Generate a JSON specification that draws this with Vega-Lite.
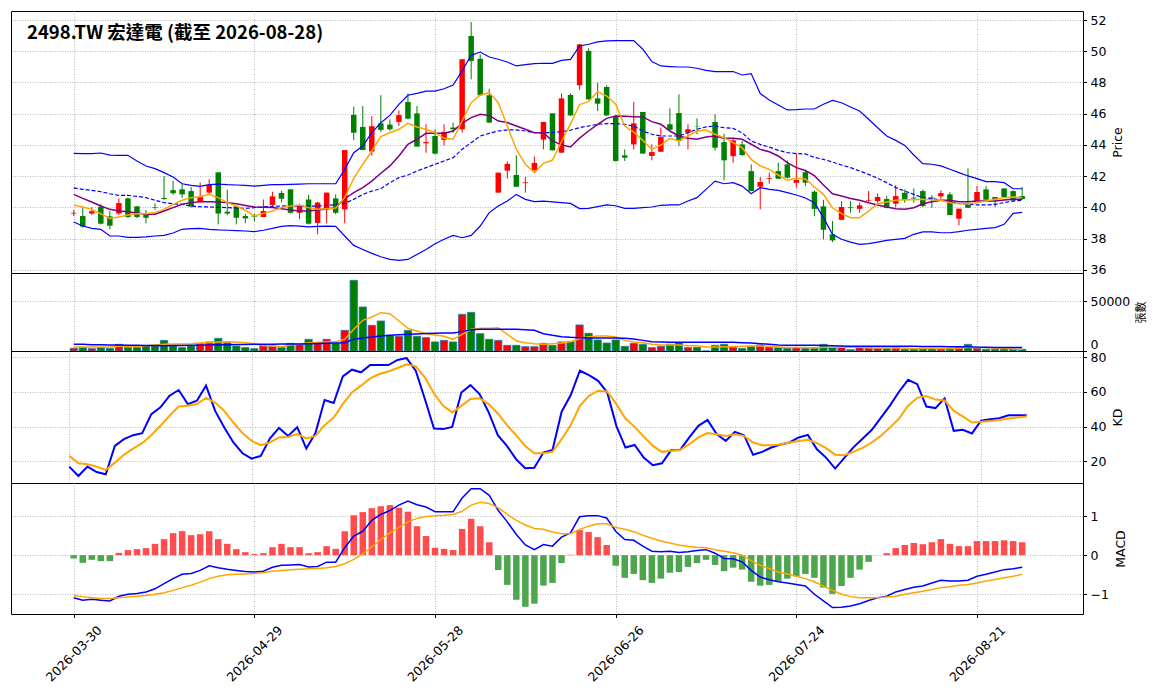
{
"$schema": "https://vega.github.io/schema/vega-lite/v6.json",
"background": "white",
"padding": {"left": 10, "top": 10, "right": 5, "bottom": 5},
"spacing": 0,
"bounds": "flush",
"resolve": {"scale": {"x": "independent", "y": "independent"}},
"config": {
 "view": {"stroke": "#000", "strokeWidth": 1},
 "axis": {"labelFont": "DejaVu Sans", "labelFontSize": 12.5, "labelColor": "#000", "titleFont": "DejaVu Sans", "titleFontSize": 12.5, "titleFontWeight": "normal", "titleColor": "#000", "tickColor": "#000", "tickSize": 3.5, "labelPadding": 3.5, "domain": false, "gridColor": "#a8a8a8", "gridDash": [1, 1.5], "gridWidth": 0.8}
},
"datasets": {"d": [
{"i":0,"o":39.6,"h":39.83,"l":39.44,"c":39.65,"v":2700,"m5":40.14,"m10":40.83,"m20":41.24,"bu":43.46,"bl":39.06,"v5":4000,"v20":6700,"k":16.9,"d":23.1,"dif":-1.09,"sig":-1.03,"hist":-0.085},
{"i":1,"o":39.44,"h":40.0,"l":38.7,"c":38.76,"v":3400,"m5":40.02,"m10":40.57,"m20":41.15,"bu":43.44,"bl":38.8,"v5":4000,"v20":6700,"k":11.5,"d":18.8,"dif":-1.15,"sig":-1.06,"hist":-0.196},
{"i":2,"o":39.6,"h":40.0,"l":39.5,"c":39.75,"v":2350,"m5":39.87,"m10":40.34,"m20":41.08,"bu":43.44,"bl":38.65,"v5":4000,"v20":6400,"k":16.9,"d":18.3,"dif":-1.13,"sig":-1.09,"hist":-0.12},
{"i":3,"o":40.04,"h":40.2,"l":38.9,"c":38.95,"v":3400,"m5":39.59,"m10":40.08,"m20":41.0,"bu":43.48,"bl":38.59,"v5":4000,"v20":6200,"k":13.8,"d":16.9,"dif":-1.15,"sig":-1.11,"hist":-0.153},
{"i":4,"o":39.42,"h":39.76,"l":38.59,"c":38.82,"v":2700,"m5":39.29,"m10":39.87,"m20":40.87,"bu":43.35,"bl":38.16,"v5":4000,"v20":6000,"k":12.5,"d":15.0,"dif":-1.17,"sig":-1.11,"hist":-0.153},
{"i":5,"o":39.6,"h":40.57,"l":39.5,"c":40.27,"v":6700,"m5":39.38,"m10":39.76,"m20":40.76,"bu":43.33,"bl":38.16,"v5":4700,"v20":6000,"k":28.8,"d":19.2,"dif":-1.05,"sig":-1.09,"hist":0.06},
{"i":6,"o":40.57,"h":40.62,"l":39.3,"c":39.38,"v":3400,"m5":39.5,"m10":39.72,"m20":40.76,"bu":43.33,"bl":38.07,"v5":4700,"v20":5800,"k":32.7,"d":23.7,"dif":-1.0,"sig":-1.07,"hist":0.128},
{"i":7,"o":40.06,"h":40.08,"l":39.3,"c":39.38,"v":3400,"m5":39.59,"m10":39.63,"m20":40.7,"bu":42.97,"bl":38.07,"v5":4900,"v20":5700,"k":35.0,"d":27.3,"dif":-0.98,"sig":-1.05,"hist":0.153},
{"i":8,"o":39.6,"h":39.83,"l":38.97,"c":39.33,"v":5000,"m5":39.59,"m10":39.55,"m20":40.62,"bu":42.65,"bl":38.1,"v5":5400,"v20":5600,"k":36.2,"d":30.4,"dif":-0.94,"sig":-1.03,"hist":0.179},
{"i":9,"o":40.02,"h":40.25,"l":39.85,"c":39.98,"v":5000,"m5":39.66,"m10":39.55,"m20":40.45,"bu":42.48,"bl":38.16,"v5":6000,"v20":5500,"k":47.1,"d":35.0,"dif":-0.86,"sig":-1.0,"hist":0.289},
{"i":10,"o":40.6,"h":42.0,"l":40.48,"c":40.53,"v":10700,"m5":39.87,"m10":39.76,"m20":40.3,"bu":42.22,"bl":38.2,"v5":6700,"v20":5400,"k":51.0,"d":40.4,"dif":-0.73,"sig":-0.96,"hist":0.409},
{"i":11,"o":41.1,"h":41.7,"l":40.8,"c":40.9,"v":5000,"m5":40.19,"m10":39.98,"m20":40.23,"bu":41.94,"bl":38.35,"v5":7000,"v20":5500,"k":57.7,"d":46.2,"dif":-0.6,"sig":-0.9,"hist":0.562},
{"i":12,"o":41.15,"h":41.47,"l":40.6,"c":40.83,"v":3400,"m5":40.45,"m10":40.19,"m20":40.19,"bu":41.51,"bl":38.59,"v5":7000,"v20":5600,"k":61.0,"d":51.5,"dif":-0.49,"sig":-0.83,"hist":0.613},
{"i":13,"o":41.04,"h":41.3,"l":39.98,"c":40.06,"v":5000,"m5":40.62,"m10":40.3,"m20":40.08,"bu":41.4,"bl":38.63,"v5":7400,"v20":5800,"k":52.9,"d":51.9,"dif":-0.47,"sig":-0.77,"hist":0.511},
{"i":14,"o":40.36,"h":41.58,"l":40.3,"c":40.7,"v":7700,"m5":40.68,"m10":40.36,"m20":40.04,"bu":41.34,"bl":38.65,"v5":8050,"v20":5900,"k":54.8,"d":52.9,"dif":-0.39,"sig":-0.69,"hist":0.536},
{"i":15,"o":40.94,"h":41.8,"l":40.88,"c":41.43,"v":9100,"m5":40.83,"m10":40.36,"m20":40.02,"bu":41.45,"bl":38.59,"v5":8600,"v20":6000,"k":63.5,"d":56.5,"dif":-0.27,"sig":-0.6,"hist":0.613},
{"i":16,"o":42.24,"h":42.24,"l":38.9,"c":39.6,"v":12750,"m5":40.62,"m10":40.34,"m20":40.0,"bu":41.49,"bl":38.55,"v5":9100,"v20":6200,"k":49.0,"d":53.8,"dif":-0.32,"sig":-0.54,"hist":0.409},
{"i":17,"o":39.72,"h":41.13,"l":39.5,"c":39.6,"v":8400,"m5":40.3,"m10":40.3,"m20":39.98,"bu":41.45,"bl":38.53,"v5":9400,"v20":6400,"k":39.4,"d":49.0,"dif":-0.36,"sig":-0.5,"hist":0.289},
{"i":18,"o":40.06,"h":40.06,"l":38.9,"c":39.33,"v":5000,"m5":40.08,"m10":40.23,"m20":39.96,"bu":41.43,"bl":38.5,"v5":9100,"v20":6500,"k":30.8,"d":42.3,"dif":-0.39,"sig":-0.49,"hist":0.153},
{"i":19,"o":39.44,"h":39.59,"l":38.99,"c":39.29,"v":3400,"m5":39.81,"m10":40.12,"m20":39.93,"bu":41.4,"bl":38.48,"v5":8400,"v20":6600,"k":24.6,"d":36.2,"dif":-0.42,"sig":-0.48,"hist":0.077},
{"i":20,"o":39.47,"h":39.6,"l":39.1,"c":39.4,"v":2350,"m5":39.44,"m10":40.02,"m20":39.98,"bu":41.36,"bl":38.44,"v5":7400,"v20":6700,"k":21.5,"d":31.7,"dif":-0.43,"sig":-0.47,"hist":0.026},
{"i":21,"o":39.38,"h":40.5,"l":39.38,"c":39.76,"v":5700,"m5":39.61,"m10":40.0,"m20":40.02,"bu":41.4,"bl":38.53,"v5":5400,"v20":6800,"k":23.1,"d":29.2,"dif":-0.41,"sig":-0.45,"hist":0.051},
{"i":22,"o":40.15,"h":41.0,"l":40.1,"c":40.7,"v":5000,"m5":39.76,"m10":39.98,"m20":40.06,"bu":41.45,"bl":38.65,"v5":5000,"v20":6900,"k":33.1,"d":30.8,"dif":-0.31,"sig":-0.41,"hist":0.204},
{"i":23,"o":40.92,"h":41.05,"l":40.3,"c":40.55,"v":3400,"m5":39.98,"m10":39.91,"m20":40.08,"bu":41.45,"bl":38.78,"v5":4350,"v20":7000,"k":39.2,"d":33.7,"dif":-0.26,"sig":-0.39,"hist":0.289},
{"i":24,"o":41.15,"h":41.15,"l":39.6,"c":39.65,"v":7700,"m5":40.08,"m10":39.83,"m20":40.1,"bu":41.47,"bl":38.82,"v5":6000,"v20":7000,"k":34.6,"d":34.0,"dif":-0.25,"sig":-0.37,"hist":0.204},
{"i":25,"o":39.65,"h":40.23,"l":39.23,"c":40.12,"v":6700,"m5":40.14,"m10":39.76,"m20":40.08,"bu":41.49,"bl":38.8,"v5":6700,"v20":7050,"k":39.6,"d":35.6,"dif":-0.24,"sig":-0.36,"hist":0.204},
{"i":26,"o":40.5,"h":40.8,"l":38.9,"c":38.95,"v":11750,"m5":39.98,"m10":39.76,"m20":40.08,"bu":41.51,"bl":38.74,"v5":8400,"v20":7300,"k":27.3,"d":33.1,"dif":-0.3,"sig":-0.35,"hist":0.051},
{"i":27,"o":39.0,"h":40.35,"l":38.27,"c":40.3,"v":7700,"m5":39.87,"m10":39.83,"m20":40.08,"bu":41.51,"bl":38.78,"v5":8700,"v20":7500,"k":36.2,"d":34.6,"dif":-0.29,"sig":-0.34,"hist":0.077},
{"i":28,"o":39.87,"h":40.94,"l":38.97,"c":40.94,"v":11750,"m5":39.91,"m10":39.89,"m20":40.12,"bu":41.51,"bl":38.8,"v5":9400,"v20":7700,"k":55.2,"d":40.8,"dif":-0.18,"sig":-0.32,"hist":0.23},
{"i":29,"o":40.57,"h":40.83,"l":39.55,"c":39.65,"v":7700,"m5":39.95,"m10":39.98,"m20":40.17,"bu":41.51,"bl":38.78,"v5":9400,"v20":8000,"k":53.5,"d":45.2,"dif":-0.18,"sig":-0.29,"hist":0.162},
{"i":30,"o":39.87,"h":43.67,"l":38.97,"c":43.67,"v":20800,"m5":40.62,"m10":40.55,"m20":40.25,"bu":42.43,"bl":38.16,"v5":11750,"v20":8400,"k":68.8,"d":52.9,"dif":0.19,"sig":-0.22,"hist":0.61},
{"i":31,"o":45.92,"h":46.45,"l":44.3,"c":44.78,"v":71150,"m5":41.86,"m10":40.94,"m20":40.51,"bu":43.5,"bl":37.56,"v5":21800,"v20":11750,"k":72.7,"d":59.6,"dif":0.49,"sig":-0.11,"hist":1.02},
{"i":32,"o":45.15,"h":46.49,"l":43.67,"c":43.67,"v":44300,"m5":42.75,"m10":41.26,"m20":40.83,"bu":43.93,"bl":37.3,"v5":30900,"v20":13000,"k":71.2,"d":63.5,"dif":0.61,"sig":0.03,"hist":1.1},
{"i":33,"o":43.57,"h":45.85,"l":43.3,"c":45.2,"v":25850,"m5":43.61,"m10":41.68,"m20":41.04,"bu":44.78,"bl":37.05,"v5":34200,"v20":14100,"k":75.4,"d":67.7,"dif":0.89,"sig":0.21,"hist":1.2},
{"i":34,"o":45.38,"h":47.18,"l":44.83,"c":44.96,"v":30200,"m5":44.53,"m10":42.18,"m20":41.19,"bu":45.42,"bl":36.83,"v5":38600,"v20":15000,"k":75.4,"d":70.2,"dif":1.04,"sig":0.4,"hist":1.25},
{"i":35,"o":45.3,"h":45.64,"l":44.9,"c":45.0,"v":15800,"m5":44.78,"m10":42.65,"m20":41.58,"bu":45.89,"bl":36.66,"v5":37600,"v20":15800,"k":75.4,"d":71.7,"dif":1.14,"sig":0.57,"hist":1.28},
{"i":36,"o":45.47,"h":46.21,"l":45.21,"c":45.91,"v":14800,"m5":45.0,"m10":43.29,"m20":41.9,"bu":46.6,"bl":36.6,"v5":30200,"v20":16300,"k":78.3,"d":73.7,"dif":1.28,"sig":0.71,"hist":1.21},
{"i":37,"o":46.75,"h":47.3,"l":45.64,"c":45.68,"v":20800,"m5":45.38,"m10":44.04,"m20":42.07,"bu":47.18,"bl":36.66,"v5":22800,"v20":16800,"k":79.4,"d":75.8,"dif":1.38,"sig":0.85,"hist":1.11},
{"i":38,"o":46.02,"h":46.49,"l":43.89,"c":43.89,"v":14800,"m5":45.15,"m10":44.36,"m20":42.33,"bu":47.3,"bl":36.98,"v5":20100,"v20":17100,"k":72.1,"d":74.6,"dif":1.29,"sig":0.94,"hist":0.74},
{"i":39,"o":44.1,"h":45.32,"l":43.5,"c":44.18,"v":13400,"m5":45.0,"m10":44.74,"m20":42.54,"bu":47.45,"bl":37.3,"v5":17450,"v20":17500,"k":55.8,"d":68.3,"dif":1.23,"sig":0.99,"hist":0.49},
{"i":40,"o":44.57,"h":45.0,"l":43.39,"c":43.44,"v":9100,"m5":44.78,"m10":44.74,"m20":42.76,"bu":47.45,"bl":37.67,"v5":16100,"v20":17800,"k":38.8,"d":59.0,"dif":1.11,"sig":1.01,"hist":0.19},
{"i":41,"o":44.32,"h":45.32,"l":43.97,"c":44.83,"v":10700,"m5":44.42,"m10":44.74,"m20":42.97,"bu":47.6,"bl":37.95,"v5":14800,"v20":18000,"k":38.5,"d":51.9,"dif":1.11,"sig":1.02,"hist":0.16},
{"i":42,"o":45.11,"h":45.43,"l":44.78,"c":45.0,"v":9100,"m5":44.36,"m10":44.89,"m20":43.18,"bu":47.84,"bl":38.2,"v5":11750,"v20":18100,"k":39.8,"d":48.1,"dif":1.11,"sig":1.04,"hist":0.13},
{"i":43,"o":45.0,"h":49.49,"l":44.78,"c":49.49,"v":36900,"m5":45.53,"m10":45.38,"m20":43.72,"bu":48.74,"bl":38.05,"v5":16800,"v20":19500,"k":59.6,"d":51.9,"dif":1.46,"sig":1.12,"hist":0.67},
{"i":44,"o":50.98,"h":51.88,"l":48.2,"c":49.38,"v":38900,"m5":46.7,"m10":45.75,"m20":44.14,"bu":49.74,"bl":38.2,"v5":21800,"v20":21500,"k":63.8,"d":55.8,"dif":1.7,"sig":1.28,"hist":0.93},
{"i":45,"o":49.52,"h":49.8,"l":47.13,"c":47.18,"v":17450,"m5":47.18,"m10":45.96,"m20":44.57,"bu":49.95,"bl":38.8,"v5":22800,"v20":21800,"k":58.7,"d":56.2,"dif":1.7,"sig":1.35,"hist":0.74},
{"i":46,"o":47.18,"h":47.6,"l":45.38,"c":45.43,"v":11750,"m5":47.35,"m10":45.89,"m20":44.74,"bu":49.63,"bl":39.66,"v5":22800,"v20":21800,"k":48.1,"d":52.9,"dif":1.53,"sig":1.32,"hist":0.33},
{"i":47,"o":40.94,"h":42.22,"l":40.94,"c":42.22,"v":10700,"m5":46.7,"m10":45.53,"m20":44.89,"bu":49.49,"bl":40.08,"v5":23500,"v20":21800,"k":35.0,"d":47.5,"dif":1.14,"sig":1.21,"hist":-0.38},
{"i":48,"o":42.35,"h":42.95,"l":41.84,"c":42.78,"v":5700,"m5":45.21,"m10":45.43,"m20":44.96,"bu":49.31,"bl":40.4,"v5":16800,"v20":21800,"k":28.8,"d":40.8,"dif":0.85,"sig":1.04,"hist":-0.76},
{"i":49,"o":42.07,"h":43.33,"l":41.32,"c":41.32,"v":5700,"m5":43.72,"m10":45.21,"m20":44.96,"bu":49.06,"bl":40.83,"v5":10100,"v20":21800,"k":21.2,"d":35.0,"dif":0.53,"sig":0.89,"hist":-1.14},
{"i":50,"o":41.55,"h":41.94,"l":40.94,"c":41.6,"v":4350,"m5":42.75,"m10":45.0,"m20":44.89,"bu":49.14,"bl":40.51,"v5":8400,"v20":21500,"k":16.0,"d":28.8,"dif":0.26,"sig":0.77,"hist":-1.32},
{"i":51,"o":42.39,"h":43.25,"l":42.33,"c":42.84,"v":4350,"m5":42.22,"m10":44.78,"m20":44.78,"bu":49.21,"bl":40.36,"v5":7400,"v20":20800,"k":16.3,"d":24.6,"dif":0.14,"sig":0.68,"hist":-1.24},
{"i":52,"o":44.34,"h":45.47,"l":43.72,"c":45.47,"v":7700,"m5":42.82,"m10":44.78,"m20":44.78,"bu":49.23,"bl":40.4,"v5":6700,"v20":17450,"k":25.0,"d":24.6,"dif":0.27,"sig":0.66,"hist":-0.78},
{"i":53,"o":46.02,"h":46.02,"l":43.65,"c":43.65,"v":5700,"m5":43.03,"m10":44.25,"m20":44.78,"bu":49.23,"bl":40.35,"v5":7400,"v20":15800,"k":26.5,"d":25.4,"dif":0.23,"sig":0.59,"hist":-0.71},
{"i":54,"o":43.5,"h":47.3,"l":43.5,"c":46.98,"v":9100,"m5":44.2,"m10":44.0,"m20":44.85,"bu":49.42,"bl":40.3,"v5":8050,"v20":14400,"k":48.5,"d":32.7,"dif":0.46,"sig":0.55,"hist":-0.2},
{"i":55,"o":47.2,"h":47.3,"l":45.85,"c":45.89,"v":9400,"m5":45.35,"m10":43.87,"m20":44.94,"bu":49.48,"bl":40.25,"v5":9400,"v20":13750,"k":58.1,"d":40.8,"dif":0.57,"sig":0.55,"hist":0.01},
{"i":56,"o":47.82,"h":50.47,"l":47.52,"c":50.44,"v":26200,"m5":46.58,"m10":44.43,"m20":45.11,"bu":50.34,"bl":39.92,"v5":12400,"v20":13400,"k":72.1,"d":51.9,"dif":0.98,"sig":0.66,"hist":0.64},
{"i":57,"o":50.02,"h":50.19,"l":46.88,"c":46.92,"v":17800,"m5":46.77,"m10":44.89,"m20":45.21,"bu":50.45,"bl":39.93,"v5":14400,"v20":13100,"k":69.6,"d":57.7,"dif":1.01,"sig":0.74,"hist":0.59},
{"i":58,"o":46.98,"h":47.99,"l":46.17,"c":46.64,"v":11100,"m5":47.41,"m10":45.32,"m20":45.32,"bu":50.6,"bl":40.04,"v5":15100,"v20":13100,"k":66.3,"d":60.6,"dif":1.01,"sig":0.8,"hist":0.46},
{"i":59,"o":47.71,"h":47.82,"l":45.85,"c":45.89,"v":8050,"m5":47.13,"m10":45.7,"m20":45.36,"bu":50.66,"bl":40.15,"v5":15100,"v20":13100,"k":59.6,"d":60.2,"dif":0.95,"sig":0.8,"hist":0.26},
{"i":60,"o":45.85,"h":45.89,"l":42.93,"c":42.97,"v":11100,"m5":46.6,"m10":45.85,"m20":45.36,"bu":50.68,"bl":40.1,"v5":14100,"v20":13100,"k":40.4,"d":52.9,"dif":0.61,"sig":0.71,"hist":-0.27},
{"i":61,"o":43.33,"h":43.71,"l":42.97,"c":43.18,"v":4700,"m5":45.21,"m10":45.83,"m20":45.32,"bu":50.68,"bl":39.93,"v5":10700,"v20":12750,"k":27.9,"d":44.6,"dif":0.4,"sig":0.66,"hist":-0.58},
{"i":62,"o":44.03,"h":46.75,"l":43.71,"c":45.38,"v":7700,"m5":44.82,"m10":45.81,"m20":45.21,"bu":50.68,"bl":39.93,"v5":9100,"v20":12100,"k":29.4,"d":39.8,"dif":0.38,"sig":0.6,"hist":-0.48},
{"i":63,"o":46.11,"h":46.11,"l":43.44,"c":43.44,"v":6700,"m5":44.29,"m10":45.79,"m20":44.89,"bu":50.13,"bl":39.98,"v5":8400,"v20":10700,"k":22.1,"d":34.2,"dif":0.23,"sig":0.51,"hist":-0.64},
{"i":64,"o":43.29,"h":44.03,"l":43.01,"c":43.54,"v":3400,"m5":43.71,"m10":45.49,"m20":44.68,"bu":49.34,"bl":40.02,"v5":6700,"v20":9400,"k":17.7,"d":28.8,"dif":0.1,"sig":0.43,"hist":-0.71},
{"i":65,"o":43.56,"h":45.1,"l":43.56,"c":44.5,"v":4700,"m5":43.99,"m10":45.32,"m20":44.57,"bu":49.06,"bl":40.13,"v5":6000,"v20":9100,"k":18.8,"d":25.4,"dif":0.085,"sig":0.36,"hist":-0.6},
{"i":66,"o":45.32,"h":46.34,"l":44.89,"c":44.97,"v":6700,"m5":44.42,"m10":44.89,"m20":44.57,"bu":49.02,"bl":40.15,"v5":6000,"v20":8700,"k":26.3,"d":26.0,"dif":0.1,"sig":0.31,"hist":-0.45},
{"i":67,"o":46.04,"h":47.24,"l":43.93,"c":44.25,"v":8400,"m5":44.25,"m10":44.57,"m20":44.57,"bu":48.99,"bl":40.15,"v5":6000,"v20":8700,"k":26.5,"d":26.5,"dif":0.07,"sig":0.26,"hist":-0.43},
{"i":68,"o":44.78,"h":45.32,"l":43.71,"c":45.0,"v":3400,"m5":44.57,"m10":44.42,"m20":44.78,"bu":48.99,"bl":40.4,"v5":5400,"v20":8700,"k":33.7,"d":29.8,"dif":0.085,"sig":0.22,"hist":-0.3},
{"i":69,"o":45.17,"h":45.7,"l":44.68,"c":45.15,"v":3700,"m5":44.89,"m10":44.36,"m20":45.0,"bu":48.91,"bl":40.62,"v5":5400,"v20":8700,"k":40.4,"d":33.7,"dif":0.12,"sig":0.2,"hist":-0.2},
{"i":70,"o":45.1,"h":45.1,"l":45.1,"c":45.1,"v":0,"m5":44.95,"m10":44.5,"m20":45.15,"bu":48.78,"bl":41.15,"v5":4000,"v20":8700,"k":43.8,"d":36.2,"dif":0.14,"sig":0.19,"hist":-0.12},
{"i":71,"o":45.47,"h":45.96,"l":43.65,"c":43.82,"v":5700,"m5":44.68,"m10":44.57,"m20":45.21,"bu":48.7,"bl":41.68,"v5":4000,"v20":8700,"k":35.6,"d":35.6,"dif":0.05,"sig":0.14,"hist":-0.25},
{"i":72,"o":44.18,"h":44.72,"l":41.73,"c":43.01,"v":6700,"m5":44.46,"m10":44.42,"m20":45.1,"bu":48.7,"bl":41.51,"v5":4350,"v20":8700,"k":31.7,"d":34.6,"dif":-0.085,"sig":0.1,"hist":-0.41},
{"i":73,"o":43.28,"h":44.46,"l":42.86,"c":44.29,"v":4700,"m5":44.14,"m10":44.42,"m20":45.06,"bu":48.7,"bl":41.58,"v5":4350,"v20":8700,"k":36.9,"d":35.6,"dif":-0.09,"sig":0.06,"hist":-0.32},
{"i":74,"o":44.03,"h":44.25,"l":43.29,"c":43.35,"v":2700,"m5":43.82,"m10":44.36,"m20":44.78,"bu":48.48,"bl":41.36,"v5":4700,"v20":8400,"k":35.0,"d":34.6,"dif":-0.17,"sig":0.0,"hist":-0.37},
{"i":75,"o":42.32,"h":42.75,"l":41.04,"c":41.04,"v":4700,"m5":43.07,"m10":44.04,"m20":44.25,"bu":48.57,"bl":40.87,"v5":5000,"v20":8050,"k":23.7,"d":30.8,"dif":-0.39,"sig":-0.14,"hist":-0.68},
{"i":76,"o":41.32,"h":41.94,"l":39.87,"c":41.62,"v":6000,"m5":42.65,"m10":43.71,"m20":44.03,"bu":47.29,"bl":41.26,"v5":5000,"v20":7400,"k":25.4,"d":29.2,"dif":-0.56,"sig":-0.26,"hist":-0.78},
{"i":77,"o":41.83,"h":42.22,"l":41.51,"c":41.88,"v":3700,"m5":42.43,"m10":43.56,"m20":43.86,"bu":46.88,"bl":41.15,"v5":4700,"v20":6700,"k":27.9,"d":29.2,"dif":-0.63,"sig":-0.34,"hist":-0.76},
{"i":78,"o":42.32,"h":42.86,"l":41.83,"c":41.83,"v":3400,"m5":42.07,"m10":43.29,"m20":43.65,"bu":46.56,"bl":41.09,"v5":4000,"v20":6000,"k":29.6,"d":29.6,"dif":-0.68,"sig":-0.43,"hist":-0.67},
{"i":79,"o":42.75,"h":43.0,"l":41.85,"c":41.9,"v":2700,"m5":41.73,"m10":42.86,"m20":43.5,"bu":46.24,"bl":40.94,"v5":3400,"v20":5700,"k":30.8,"d":30.8,"dif":-0.71,"sig":-0.48,"hist":-0.6},
{"i":80,"o":41.57,"h":43.44,"l":41.26,"c":41.75,"v":3400,"m5":41.86,"m10":42.54,"m20":43.44,"bu":46.26,"bl":40.79,"v5":3400,"v20":5700,"k":33.7,"d":31.7,"dif":-0.75,"sig":-0.54,"hist":-0.54},
{"i":81,"o":42.25,"h":42.33,"l":41.36,"c":41.58,"v":2700,"m5":41.82,"m10":42.36,"m20":43.42,"bu":46.3,"bl":40.6,"v5":3400,"v20":5700,"k":35.2,"d":32.3,"dif":-0.79,"sig":-0.6,"hist":-0.48},
{"i":82,"o":41.0,"h":41.09,"l":39.44,"c":39.9,"v":3400,"m5":41.3,"m10":42.03,"m20":43.2,"bu":46.3,"bl":40.3,"v5":3100,"v20":5700,"k":26.9,"d":30.4,"dif":-1.0,"sig":-0.68,"hist":-0.58},
{"i":83,"o":40.06,"h":40.48,"l":37.94,"c":38.56,"v":6700,"m5":40.83,"m10":41.43,"m20":43.07,"bu":46.6,"bl":39.34,"v5":3700,"v20":5500,"k":22.1,"d":27.5,"dif":-1.17,"sig":-0.79,"hist":-0.83},
{"i":84,"o":38.27,"h":39.12,"l":37.77,"c":37.88,"v":3400,"m5":39.97,"m10":40.87,"m20":42.9,"bu":46.85,"bl":38.27,"v5":3700,"v20":5300,"k":15.8,"d":23.8,"dif":-1.34,"sig":-0.9,"hist":-0.99},
{"i":85,"o":39.2,"h":40.4,"l":39.2,"c":40.02,"v":4000,"m5":39.59,"m10":40.72,"m20":42.71,"bu":46.7,"bl":37.95,"v5":4100,"v20":5000,"k":22.0,"d":23.5,"dif":-1.33,"sig":-1.0,"hist":-0.79},
{"i":86,"o":40.0,"h":40.4,"l":39.65,"c":39.95,"v":1350,"m5":39.33,"m10":40.57,"m20":42.54,"bu":46.43,"bl":37.77,"v5":3800,"v20":4800,"k":28.0,"d":25.4,"dif":-1.3,"sig":-1.06,"hist":-0.58},
{"i":87,"o":39.9,"h":40.29,"l":39.65,"c":40.12,"v":3400,"m5":39.33,"m10":40.45,"m20":42.33,"bu":46.17,"bl":37.63,"v5":3800,"v20":4700,"k":33.0,"d":27.7,"dif":-1.24,"sig":-1.09,"hist":-0.37},
{"i":88,"o":40.42,"h":41.04,"l":40.29,"c":40.46,"v":3400,"m5":39.76,"m10":40.29,"m20":42.11,"bu":45.64,"bl":37.67,"v5":3100,"v20":4700,"k":38.0,"d":30.8,"dif":-1.16,"sig":-1.09,"hist":-0.17},
{"i":89,"o":40.4,"h":40.89,"l":40.29,"c":40.66,"v":2700,"m5":40.23,"m10":40.15,"m20":41.86,"bu":45.1,"bl":37.77,"v5":3000,"v20":4700,"k":45.0,"d":34.6,"dif":-1.09,"sig":-1.09,"hist":0.0},
{"i":90,"o":40.53,"h":40.72,"l":39.93,"c":39.97,"v":2700,"m5":40.34,"m10":40.02,"m20":41.58,"bu":44.57,"bl":37.88,"v5":3000,"v20":4700,"k":52.0,"d":39.4,"dif":-1.05,"sig":-1.07,"hist":0.05},
{"i":91,"o":40.23,"h":41.43,"l":40.02,"c":40.72,"v":3400,"m5":40.45,"m10":39.91,"m20":41.26,"bu":44.29,"bl":37.95,"v5":3000,"v20":4700,"k":60.0,"d":44.5,"dif":-0.94,"sig":-1.05,"hist":0.18},
{"i":92,"o":40.93,"h":41.15,"l":40.29,"c":40.46,"v":1700,"m5":40.49,"m10":39.87,"m20":41.04,"bu":43.97,"bl":38.01,"v5":2800,"v20":4700,"k":66.9,"d":52.0,"dif":-0.88,"sig":-1.0,"hist":0.26},
{"i":93,"o":40.62,"h":41.21,"l":40.29,"c":40.57,"v":1700,"m5":40.49,"m10":39.97,"m20":40.83,"bu":43.35,"bl":38.27,"v5":2500,"v20":4700,"k":64.4,"d":56.5,"dif":-0.82,"sig":-0.96,"hist":0.31},
{"i":94,"o":41.04,"h":41.15,"l":40.02,"c":40.08,"v":2700,"m5":40.51,"m10":40.23,"m20":40.62,"bu":42.8,"bl":38.42,"v5":2400,"v20":4600,"k":51.5,"d":57.5,"dif":-0.79,"sig":-0.92,"hist":0.28},
{"i":95,"o":40.62,"h":40.78,"l":39.97,"c":40.57,"v":2700,"m5":40.49,"m10":40.36,"m20":40.57,"bu":42.76,"bl":38.42,"v5":2400,"v20":4600,"k":50.6,"d":55.5,"dif":-0.71,"sig":-0.88,"hist":0.33},
{"i":96,"o":40.7,"h":41.08,"l":40.5,"c":40.91,"v":2700,"m5":40.45,"m10":40.45,"m20":40.45,"bu":42.65,"bl":38.37,"v5":2300,"v20":4500,"k":56.2,"d":55.0,"dif":-0.64,"sig":-0.83,"hist":0.41},
{"i":97,"o":40.83,"h":40.98,"l":39.5,"c":39.5,"v":2700,"m5":40.29,"m10":40.45,"m20":40.36,"bu":42.44,"bl":38.37,"v5":2500,"v20":4400,"k":37.5,"d":49.0,"dif":-0.66,"sig":-0.81,"hist":0.29},
{"i":98,"o":39.27,"h":39.91,"l":38.84,"c":39.91,"v":3400,"m5":40.23,"m10":40.36,"m20":40.25,"bu":42.22,"bl":38.44,"v5":2800,"v20":4300,"k":38.1,"d":45.8,"dif":-0.66,"sig":-0.77,"hist":0.23},
{"i":99,"o":40.15,"h":42.5,"l":39.97,"c":39.97,"v":6700,"m5":40.23,"m10":40.36,"m20":40.19,"bu":42.01,"bl":38.53,"v5":3600,"v20":4200,"k":36.0,"d":42.3,"dif":-0.64,"sig":-0.75,"hist":0.23},
{"i":100,"o":40.4,"h":41.36,"l":40.4,"c":40.98,"v":2700,"m5":40.29,"m10":40.4,"m20":40.15,"bu":41.84,"bl":38.59,"v5":3600,"v20":3900,"k":43.3,"d":42.7,"dif":-0.54,"sig":-0.71,"hist":0.36},
{"i":101,"o":41.15,"h":41.36,"l":40.44,"c":40.49,"v":1700,"m5":40.4,"m10":40.4,"m20":40.15,"bu":41.65,"bl":38.65,"v5":3400,"v20":3700,"k":44.2,"d":43.1,"dif":-0.49,"sig":-0.66,"hist":0.36},
{"i":102,"o":40.66,"h":40.66,"l":40.02,"c":40.49,"v":1700,"m5":40.51,"m10":40.4,"m20":40.19,"bu":41.65,"bl":38.7,"v5":3100,"v20":3500,"k":44.8,"d":43.7,"dif":-0.43,"sig":-0.62,"hist":0.36},
{"i":103,"o":41.21,"h":41.21,"l":40.62,"c":40.66,"v":1700,"m5":40.62,"m10":40.47,"m20":40.3,"bu":41.58,"bl":38.91,"v5":2800,"v20":3400,"k":46.5,"d":44.6,"dif":-0.37,"sig":-0.58,"hist":0.38},
{"i":104,"o":41.04,"h":41.08,"l":40.4,"c":40.44,"v":2000,"m5":40.66,"m10":40.51,"m20":40.4,"bu":41.19,"bl":39.61,"v5":1900,"v20":3400,"k":46.5,"d":45.2,"dif":-0.35,"sig":-0.54,"hist":0.36},
{"i":105,"o":40.72,"h":41.3,"l":40.49,"c":40.53,"v":1700,"m5":40.62,"m10":40.51,"m20":40.45,"bu":41.19,"bl":39.68,"v5":1800,"v20":3400,"k":46.5,"d":45.8,"dif":-0.31,"sig":-0.49,"hist":0.33}
]},
"vconcat": [
 {
  "width": 1072, "height": 262,
  "title": {"text": "2498.TW 宏達電 (截至 2026-08-28)", "anchor": "start", "frame": "group", "orient": "top", "offset": -46, "dx": 16, "baseline": "alphabetic", "font": "Noto Sans CJK TC", "fontSize": 18.5, "fontWeight": "bold", "color": "#000"},
  "data": {"name": "d"},
  "encoding": {"x": {"field": "i", "type": "quantitative", "scale": {"domain": [-6.39, 111.18], "nice": false, "zero": false}, "axis": {"values": [0, 20, 40, 60, 80, 100], "labels": false, "ticks": false, "title": null, "grid": true}}},
  "layer": [
   {"mark": {"type": "rule", "strokeWidth": 1},
    "encoding": {"y": {"field": "l", "type": "quantitative", "scale": {"domain": [35.79, 52.58], "nice": false, "zero": false}, "axis": {"orient": "right", "values": [36, 38, 40, 42, 44, 46, 48, 50, 52], "title": "Price", "titleAngle": 270, "titleBaseline": "top", "titlePadding": 6, "grid": true}},
     "y2": {"field": "h"},
     "color": {"condition": {"test": "datum.c > datum.o", "value": "#ff0000"}, "value": "#008000"}}},
   {"mark": {"type": "bar", "width": 5.5},
    "encoding": {"y": {"field": "o", "type": "quantitative", "scale": {"domain": [35.79, 52.58], "nice": false, "zero": false}, "axis": {"orient": "right", "values": [36, 38, 40, 42, 44, 46, 48, 50, 52], "title": "Price", "titleAngle": 270, "titleBaseline": "top", "titlePadding": 6, "grid": true}},
     "y2": {"field": "c"},
     "color": {"condition": {"test": "datum.c > datum.o", "value": "#ff0000"}, "value": "#008000"}}},
   {"mark": {"type": "line", "color": "#0000ff", "strokeWidth": 1.2},
    "encoding": {"y": {"field": "bu", "type": "quantitative", "scale": {"domain": [35.79, 52.58], "nice": false, "zero": false}, "axis": {"orient": "right", "values": [36, 38, 40, 42, 44, 46, 48, 50, 52], "title": "Price", "titleAngle": 270, "titleBaseline": "top", "titlePadding": 6, "grid": true}}}},
   {"mark": {"type": "line", "color": "#0000ff", "strokeWidth": 1.2},
    "encoding": {"y": {"field": "bl", "type": "quantitative", "scale": {"domain": [35.79, 52.58], "nice": false, "zero": false}, "axis": {"orient": "right", "values": [36, 38, 40, 42, 44, 46, 48, 50, 52], "title": "Price", "titleAngle": 270, "titleBaseline": "top", "titlePadding": 6, "grid": true}}}},
   {"mark": {"type": "line", "color": "#0000ff", "strokeWidth": 1.2, "strokeDash": [4, 2]},
    "encoding": {"y": {"field": "m20", "type": "quantitative", "scale": {"domain": [35.79, 52.58], "nice": false, "zero": false}, "axis": {"orient": "right", "values": [36, 38, 40, 42, 44, 46, 48, 50, 52], "title": "Price", "titleAngle": 270, "titleBaseline": "top", "titlePadding": 6, "grid": true}}}},
   {"mark": {"type": "line", "color": "#800080", "strokeWidth": 1.5},
    "encoding": {"y": {"field": "m10", "type": "quantitative", "scale": {"domain": [35.79, 52.58], "nice": false, "zero": false}, "axis": {"orient": "right", "values": [36, 38, 40, 42, 44, 46, 48, 50, 52], "title": "Price", "titleAngle": 270, "titleBaseline": "top", "titlePadding": 6, "grid": true}}}},
   {"mark": {"type": "line", "color": "#ffa500", "strokeWidth": 1.5},
    "encoding": {"y": {"field": "m5", "type": "quantitative", "scale": {"domain": [35.79, 52.58], "nice": false, "zero": false}, "axis": {"orient": "right", "values": [36, 38, 40, 42, 44, 46, 48, 50, 52], "title": "Price", "titleAngle": 270, "titleBaseline": "top", "titlePadding": 6, "grid": true}}}}
  ]
 },
 {
  "width": 1072, "height": 78,
  "data": {"name": "d"},
  "encoding": {"x": {"field": "i", "type": "quantitative", "scale": {"domain": [-6.39, 111.18], "nice": false, "zero": false}, "axis": {"values": [0, 20, 40, 60, 80, 100], "labels": false, "ticks": false, "title": null, "grid": true}}},
  "layer": [
   {"mark": {"type": "bar", "width": 7.3, "stroke": "#1f77b4", "strokeWidth": 0.8},
    "encoding": {"y": {"field": "v", "type": "quantitative", "scale": {"domain": [0, 78500], "nice": false}, "axis": {"orient": "right", "values": [0, 50000], "format": "d", "labelFlush": true, "title": "張數", "titleFont": "Noto Sans CJK TC", "titleFontSize": 11, "titleAngle": 270, "titleBaseline": "top", "titlePadding": 6, "grid": true}},
     "color": {"condition": {"test": "datum.c > datum.o", "value": "#ff0000"}, "value": "#008000"}}},
   {"mark": {"type": "line", "color": "#ffa500", "strokeWidth": 1.5},
    "encoding": {"y": {"field": "v5", "type": "quantitative", "scale": {"domain": [0, 78500], "nice": false}, "axis": {"orient": "right", "values": [0, 50000], "format": "d", "labelFlush": true, "title": "張數", "titleFont": "Noto Sans CJK TC", "titleFontSize": 11, "titleAngle": 270, "titleBaseline": "top", "titlePadding": 6, "grid": true}}}},
   {"mark": {"type": "line", "color": "#0000ff", "strokeWidth": 1.5},
    "encoding": {"y": {"field": "v20", "type": "quantitative", "scale": {"domain": [0, 78500], "nice": false}, "axis": {"orient": "right", "values": [0, 50000], "format": "d", "labelFlush": true, "title": "張數", "titleFont": "Noto Sans CJK TC", "titleFontSize": 11, "titleAngle": 270, "titleBaseline": "top", "titlePadding": 6, "grid": true}}}}
  ]
 },
 {
  "width": 1072, "height": 132,
  "data": {"name": "d"},
  "encoding": {"x": {"field": "i", "type": "quantitative", "scale": {"domain": [-6.39, 111.18], "nice": false, "zero": false}, "axis": {"values": [0, 20, 40, 60, 80, 100], "labels": false, "ticks": false, "title": null, "grid": true}}},
  "layer": [
   {"mark": {"type": "line", "color": "#0000ff", "strokeWidth": 2},
    "encoding": {"y": {"field": "k", "type": "quantitative", "scale": {"domain": [7.48, 83.46], "nice": false, "zero": false}, "axis": {"orient": "right", "values": [20, 40, 60, 80], "title": "KD", "titleAngle": 270, "titleBaseline": "top", "titlePadding": 6, "grid": true}}}},
   {"mark": {"type": "line", "color": "#ffa500", "strokeWidth": 2},
    "encoding": {"y": {"field": "d", "type": "quantitative", "scale": {"domain": [7.48, 83.46], "nice": false, "zero": false}, "axis": {"orient": "right", "values": [20, 40, 60, 80], "title": "KD", "titleAngle": 270, "titleBaseline": "top", "titlePadding": 6, "grid": true}}}}
  ]
 },
 {
  "width": 1072, "height": 131,
  "data": {"name": "d"},
  "encoding": {"x": {"field": "i", "type": "quantitative", "scale": {"domain": [-6.39, 111.18], "nice": false, "zero": false}, "axis": {"values": [0, 20, 40, 60, 80, 100], "title": null, "grid": true, "ticks": true, "labelAngle": -45, "labelAlign": "center", "labelBaseline": "middle", "labelPadding": 36, "labelExpr": "datum.value == 0 ? '2026-03-30' : datum.value == 20 ? '2026-04-29' : datum.value == 40 ? '2026-05-28' : datum.value == 60 ? '2026-06-26' : datum.value == 80 ? '2026-07-24' : '2026-08-21'"}}},
  "layer": [
   {"mark": {"type": "bar", "width": 6.5},
    "encoding": {"y": {"field": "hist", "type": "quantitative", "scale": {"domain": [-1.504, 1.844], "nice": false, "zero": false}, "axis": {"orient": "right", "values": [-1, 0, 1], "title": "MACD", "titleAngle": 270, "titleBaseline": "top", "titlePadding": 6, "grid": true}},
     "y2": {"datum": 0},
     "color": {"condition": {"test": "datum.hist >= 0", "value": "#ff4d4d"}, "value": "#4da64d"}}},
   {"mark": {"type": "line", "color": "#0000ff", "strokeWidth": 1.5},
    "encoding": {"y": {"field": "dif", "type": "quantitative", "scale": {"domain": [-1.504, 1.844], "nice": false, "zero": false}, "axis": {"orient": "right", "values": [-1, 0, 1], "title": "MACD", "titleAngle": 270, "titleBaseline": "top", "titlePadding": 6, "grid": true}}}},
   {"mark": {"type": "line", "color": "#ffa500", "strokeWidth": 1.5},
    "encoding": {"y": {"field": "sig", "type": "quantitative", "scale": {"domain": [-1.504, 1.844], "nice": false, "zero": false}, "axis": {"orient": "right", "values": [-1, 0, 1], "title": "MACD", "titleAngle": 270, "titleBaseline": "top", "titlePadding": 6, "grid": true}}}}
  ]
 }
]
}
